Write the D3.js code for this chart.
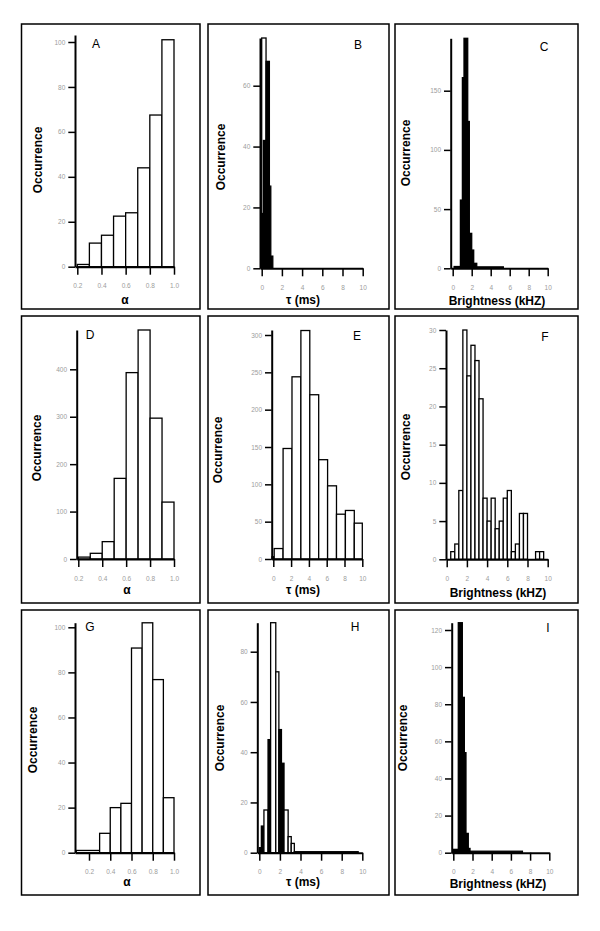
<!DOCTYPE html>
<html><head><meta charset="utf-8">
<script src="https://cdn.jsdelivr.net/npm/d3@7"></script>
<style>body{margin:0;background:#fff}</style>
</head><body><svg id="c" width="600" height="931"></svg>
<script>
// ---------- data ----------
const panelLetters = ["A","B","C","D","E","F","G","H","I"];
const xTitles = ["α","τ (ms)","Brightness (kHZ)"];
const yTitle = "Occurrence";
const alphaTicks = [0.2,0.4,0.6,0.8,1.0];
const tauTicks = [0,2,4,6,8,10];
const brightTicks = [0,2,4,6,8,10];
const yTicksA = [0,20,40,60,80,100];
const yTicksB = [0,20,40,60];
const yTicksC = [0,50,100,150];
const yTicksD = [0,100,200,300,400];
const yTicksE = [0,50,100,150,200,250,300];
const yTicksF = [0,5,10,15,20,25,30];
const yTicksG = [0,20,40,60,80,100];
const yTicksH = [0,20,40,60,80];
const yTicksI = [0,20,40,60,80,100,120];

// histogram bins: edges (n+1) and counts (n)
const edgesA = [0.2,0.3,0.4,0.5,0.6,0.7,0.8,0.9,1.0];
const countsA = [1,10.5,14,22.5,24,44,67.5,101];
const edgesBwide = [0,0.43];
const countsBwide = [80];
const edgesB = [0,0.17,0.43,0.76,0.9,1.1];
const countsB = [18,42,68,27,4];
const edgesC = [0.15,0.81,1.02,1.19,1.58,1.75,2.0,2.21,2.53,5.33];
const countsC = [1.5,57.6,161,200,124,29.5,15.4,4.2,1.2];
const edgesD = [0.2,0.3,0.4,0.5,0.6,0.7,0.8,0.9,1.0];
const countsD = [4,12,36.6,170,393,483,297,120];
const edgesE = [-0.15,0.1,1.1,2.1,3.1,4.1,5.1,6.1,7.1,8.1,9.1,10.0];
const countsE = [3,14,148,244,306,220,133,98,60,65,48];
const edgesF = [0,0.4,0.8,1.2,1.6,2.0,2.4,2.8,3.2,3.6,4.0,4.4,4.8,5.2,5.6,6.0,6.4,6.8,7.2,7.6,8.0,8.4,8.8,9.2,9.6,10.0];
const countsF = [0,1,2,9,30,24,28,26,21,8,5,8,4,5,8,9,1,2,6,6,0,0,1,1,0];
const edgesG = [0.08,0.3,0.4,0.5,0.6,0.7,0.8,0.9,1.0];
const countsG = [1,8.6,20,21.9,90.8,102,76.8,24.4];
const edgesH = [0,0.2,0.45,0.85,1.1,1.6,1.9,2.15,2.4,2.8,3.1,3.4,9.6];
const countsH = [2,10.6,17,45,91.6,72,49,35.6,17,6.4,3.7,0.4];
const edgesI = [0,0.52,0.94,1.15,1.32,1.56,1.74,7.2];
const countsI = [1.8,124,83.7,53.9,10.4,2.3,0.8];

// ---------- layout (positions only) ----------
const colX = [[21.5,200],[208,389],[395,578]];
const rowY = [[24,309],[316,603],[610,895]];
const panels = [
 {edges:edgesA,counts:countsA,xt:alphaTicks,yt:yTicksA,fmt:".1f",ax:75,xp:[77.3,174],xv:[0.2,1.0],base:266.7,top:35,yref:[100,42],solid:false,
  letter:[96,44],ylab:[38,160],xlab:[125,300]},
 {edges:edgesB,counts:countsB,wideE:edgesBwide,wideC:countsBwide,xt:tauTicks,yt:yTicksB,fmt:"d",ax:260,xp:[261.7,362.7],xv:[0,10],base:268.3,top:38,yref:[60,85.7],solid:true,
  letter:[358,45],ylab:[220.7,157],xlab:[303,300]},
 {edges:edgesC,counts:countsC,xt:brightTicks,yt:yTicksC,fmt:"d",ax:450.7,xp:[452.7,547.7],xv:[0,10],base:268.3,top:38.3,yref:[150,90.7],solid:true,
  letter:[544,47],ylab:[405.7,153],xlab:[497,301]},
 {edges:edgesD,counts:countsD,xt:alphaTicks,yt:yTicksD,fmt:".1f",ax:76.7,xp:[78.3,174],xv:[0.2,1.0],base:559,top:330,yref:[400,369.3],solid:false,
  letter:[90,335],ylab:[36.7,448],xlab:[127,590]},
 {edges:edgesE,counts:countsE,xt:tauTicks,yt:yTicksE,fmt:"d",ax:271.7,xp:[273.3,362.3],xv:[0,10],base:559,top:330,yref:[300,335],solid:false,
  letter:[357,336],ylab:[218,450],xlab:[303,590]},
 {edges:edgesF,counts:countsF,xt:brightTicks,yt:yTicksF,fmt:"d",ax:446,xp:[446.7,547.7],xv:[0,10],base:559.3,top:330,yref:[30,330],solid:false,
  letter:[545,337],ylab:[405.7,447],xlab:[498,593]},
 {edges:edgesG,counts:countsG,xt:alphaTicks,yt:yTicksG,fmt:".1f",ax:75,xp:[89,174],xv:[0.2,1.0],base:852.7,top:622.7,yref:[100,627.3],solid:false,
  letter:[90,627],ylab:[33,740],xlab:[127,882]},
 {edges:edgesH,counts:countsH,xt:tauTicks,yt:yTicksH,fmt:"d",ax:257.3,xp:[259.3,362.3],xv:[0,10],base:852.7,top:622.7,yref:[80,651.7],solid:false,
  letter:[355,627],ylab:[220,738],xlab:[303,882]},
 {edges:edgesI,counts:countsI,xt:brightTicks,yt:yTicksI,fmt:"d",ax:451.7,xp:[453.3,549.3],xv:[0,10],base:852.7,top:622.7,yref:[120,630],solid:true,
  letter:[548,628],ylab:[403,738],xlab:[498,884]}
];

const svg = d3.select("#c");
const FONT = "'Liberation Sans', Arial, Helvetica, sans-serif";

panels.forEach((p,i)=>{
  const col = i%3, row = Math.floor(i/3);
  const g = svg.append("g");
  // frame
  g.append("rect").attr("x",colX[col][0]).attr("y",rowY[row][0])
    .attr("width",colX[col][1]-colX[col][0]).attr("height",rowY[row][1]-rowY[row][0])
    .attr("fill","none").attr("stroke","#000").attr("stroke-width",1.5);

  // scales
  const tmp = d3.scaleLinear().domain(p.xv).range(p.xp);
  const x = d3.scaleLinear().domain([tmp.invert(p.ax), p.xv[1]]).range([p.ax, p.xp[1]]);
  const yTmp = d3.scaleLinear().domain([0,p.yref[0]]).range([p.base,p.yref[1]]);
  const ymax = yTmp.invert(p.top);
  const y = d3.scaleLinear().domain([0,ymax]).range([p.base,p.top]);

  const toBins = (edges,counts)=>counts.map((c,k)=>({x0:edges[k],x1:edges[k+1],c:c})).filter(d=>d.c>0);

  if(p.wideE){
    g.selectAll(".wide").data(toBins(p.wideE,p.wideC)).join("rect")
      .attr("x",d=>x(d.x0)).attr("width",d=>x(d.x1)-x(d.x0))
      .attr("y",d=>y(Math.min(d.c,ymax))).attr("height",d=>p.base-y(Math.min(d.c,ymax)))
      .attr("fill","#fff").attr("stroke","#000").attr("stroke-width",1.3);
  }
  g.selectAll(".bar").data(toBins(p.edges,p.counts)).join("rect")
    .attr("x",d=>x(d.x0)).attr("width",d=>x(d.x1)-x(d.x0))
    .attr("y",d=>y(Math.min(d.c,ymax))).attr("height",d=>p.base-y(Math.min(d.c,ymax)))
    .attr("fill",d=> (p.solid || (x(d.x1)-x(d.x0))<3) ? "#000" : "#fff")
    .attr("stroke","#000").attr("stroke-width",1.3);

  // axes
  const yAx = g.append("g").attr("transform",`translate(${p.ax},0)`)
    .call(d3.axisLeft(y).tickValues(p.yt).tickFormat(d3.format("d")).tickSize(6.7).tickSizeOuter(0).tickPadding(3));
  const xAx = g.append("g").attr("transform",`translate(0,${p.base})`)
    .call(d3.axisBottom(x).tickValues(p.xt).tickFormat(d3.format(p.fmt)).tickSize(8).tickSizeOuter(0).tickPadding(9));
  [yAx,xAx].forEach(a=>{
    a.select(".domain").attr("stroke","#000").attr("stroke-width",2);
    a.selectAll(".tick line").attr("stroke","#000").attr("stroke-width",1.5);
    a.selectAll(".tick text").attr("fill","#9c9c9c").style("font-family",FONT).style("font-size","6.5px");
  });

  // letter
  g.append("text").attr("x",p.letter[0]).attr("y",p.letter[1]).attr("text-anchor","middle")
    .attr("dominant-baseline","central").style("font-family",FONT).style("font-size","12px").text(panelLetters[i]);
  // y title
  g.append("text").attr("transform",`translate(${p.ylab[0]},${p.ylab[1]}) rotate(-90)`)
    .attr("text-anchor","middle").attr("dominant-baseline","central")
    .style("font-family",FONT).style("font-size","12px").style("font-weight","bold").text(yTitle);
  // x title
  g.append("text").attr("x",p.xlab[0]).attr("y",p.xlab[1]).attr("text-anchor","middle")
    .attr("dominant-baseline","central").style("font-family",FONT).style("font-size","12px")
    .style("font-weight","bold").text(xTitles[col]);
});
</script></body></html>
